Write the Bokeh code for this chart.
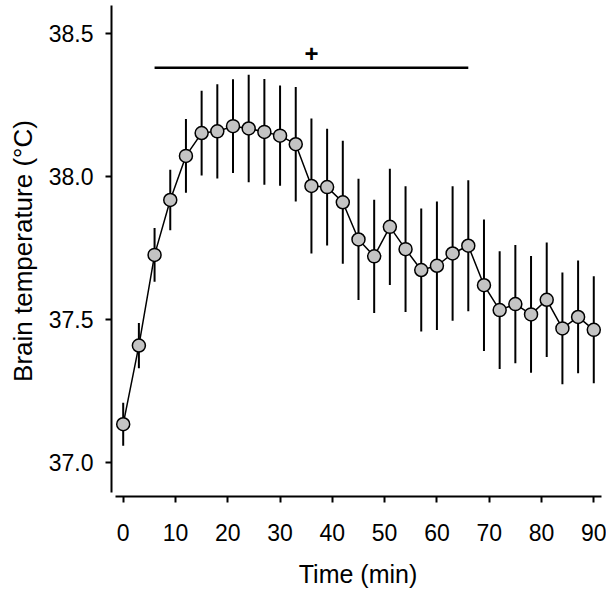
from bokeh.plotting import figure
from bokeh.models import ColumnDataSource, FixedTicker, Range1d
from bokeh.core.properties import value
from bokeh.embed import file_html
from bokeh.resources import INLINE

# ---- data ----
time_min = [0, 3, 6, 9, 12, 15, 18, 21, 24, 27, 30, 33, 36, 39, 42, 45,
            48, 51, 54, 57, 60, 63, 66, 69, 72, 75, 78, 81, 84, 87, 90]
temp_mean = [37.135, 37.410, 37.727, 37.919, 38.073, 38.153, 38.159, 38.177,
             38.169, 38.157, 38.144, 38.114, 37.968, 37.964, 37.911, 37.781,
             37.722, 37.825, 37.747, 37.674, 37.689, 37.732, 37.759, 37.621,
             37.534, 37.555, 37.519, 37.570, 37.470, 37.510, 37.465]
temp_sem = [0.075, 0.079, 0.094, 0.106, 0.129, 0.148, 0.165, 0.164,
            0.188, 0.185, 0.175, 0.200, 0.236, 0.204, 0.215, 0.212,
            0.198, 0.203, 0.220, 0.215, 0.225, 0.235, 0.229, 0.230,
            0.206, 0.207, 0.204, 0.200, 0.195, 0.197, 0.187]
x_ticks = [0, 10, 20, 30, 40, 50, 60, 70, 80, 90]
y_ticks = [37.0, 37.5, 38.0, 38.5]
sig_start, sig_end, sig_level = 6, 66, 38.381
sig_label = "+"

FONT = "Liberation Sans"

lower = [m - s for m, s in zip(temp_mean, temp_sem)]
upper = [m + s for m, s in zip(temp_mean, temp_sem)]
src = ColumnDataSource(dict(t=time_min, m=temp_mean, lo=lower, hi=upper))

p = figure(width=606, height=591, output_backend="svg", toolbar_location=None,
           x_range=Range1d(-2.2376, 92.05), y_range=Range1d(36.8822, 38.599),
           min_border_left=111, min_border_right=2, min_border_top=5,
           min_border_bottom=95)
p.outline_line_color = None
p.grid.visible = False
p.background_fill_color = "white"
p.border_fill_color = "white"

# error bars
p.segment(x0="t", y0="lo", x1="t", y1="hi", source=src,
          line_color="black", line_width=2)
# connecting line
p.line(x="t", y="m", source=src, line_color="black", line_width=1.5)
# markers
p.scatter(x="t", y="m", source=src, size=13, marker="circle",
          fill_color="#c4c4c4", line_color="black", line_width=1.5)

# significance bar
p.segment(x0=[sig_start], y0=[sig_level], x1=[sig_end], y1=[sig_level],
          line_color="black", line_width=2.5)
p.text(x=[(sig_start + sig_end) / 2], y=[sig_level], text=[sig_label],
       text_font=value(FONT), text_font_size="24px", text_font_style="bold",
       text_align="center", text_baseline="middle", y_offset=-14,
       text_color="black")

# axes
xa = p.xaxis[0]
xa.ticker = FixedTicker(ticks=x_ticks)
xa.bounds = (-1.47, 91.41)
xa.axis_label = "Time (min)"
ya = p.yaxis[0]
ya.ticker = FixedTicker(ticks=y_ticks)
ya.major_label_overrides = {v: f"{v:.1f}" for v in y_ticks}
ya.bounds = (36.897, 38.599)
ya.axis_label = "Brain temperature (°C)"

for ax in (xa, ya):
    ax.axis_line_width = 2
    ax.axis_line_color = "black"
    ax.major_tick_line_width = 2
    ax.major_tick_line_color = "black"
    ax.major_tick_in = 0
    ax.major_tick_out = 6
    ax.minor_tick_line_color = None
    ax.major_label_text_font = FONT
    ax.major_label_text_font_size = "23px"
    ax.major_label_text_color = "black"
    ax.axis_label_text_font = FONT
    ax.axis_label_text_font_size = "25px"
    ax.axis_label_text_font_style = "normal"
    ax.axis_label_text_color = "black"
p.yaxis[0].axis_label_text_font_size = "26px"

xa.major_label_standoff = 21
xa.axis_label_standoff = 16
ya.major_label_standoff = 12
ya.axis_label_standoff = 8

open("out.html", "w").write(file_html(p, INLINE))
